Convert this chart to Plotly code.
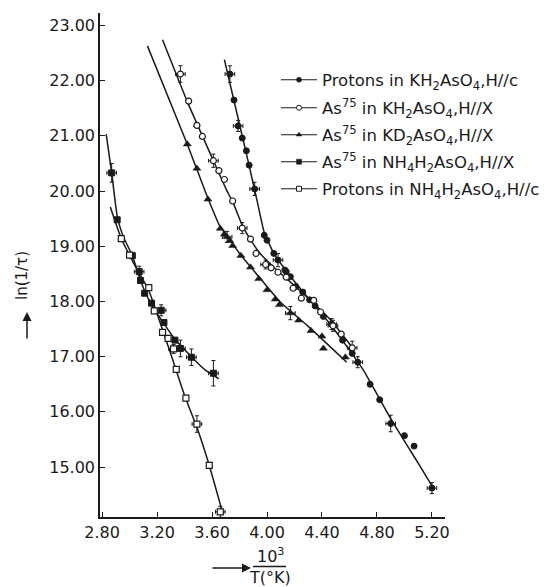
import plotly.graph_objects as go

# ---------------- data ----------------
# Series 1: Protons in KH2AsO4, H//c  (filled circles)
kh_p_x = [3.73, 3.76, 3.79, 3.82, 3.85, 3.87, 3.91, 3.98, 4.00, 4.05, 4.08, 4.13, 4.14, 4.17,
          4.21, 4.26, 4.31, 4.35, 4.41, 4.47, 4.55, 4.62, 4.66, 4.75, 4.82, 4.90, 5.00, 5.07, 5.20]
kh_p_y = [22.12, 21.65, 21.18, 20.96, 20.73, 20.47, 20.04, 19.20, 19.11, 18.87, 18.75, 18.57, 18.54, 18.45,
          18.27, 18.17, 18.03, 17.92, 17.73, 17.59, 17.30, 17.06, 16.90, 16.50, 16.22, 15.79, 15.57, 15.38, 14.62]
kh_p_ey = [0.15, 0, 0.10, 0, 0, 0, 0.12, 0, 0, 0, 0.12, 0, 0, 0,
           0, 0, 0, 0, 0, 0.10, 0, 0, 0.10, 0, 0, 0.15, 0, 0, 0.10]
kh_p_cx = [3.69, 3.80, 3.87, 3.93, 3.98, 4.05, 4.15, 4.30, 4.45, 4.60, 4.70, 4.90, 5.10, 5.21]
kh_p_cy = [22.38, 21.21, 20.46, 19.80, 19.25, 18.87, 18.52, 18.06, 17.62, 17.12, 16.76, 15.88, 15.07, 14.62]

# Series 2: As75 in KH2AsO4, H//X  (open circles)
kh_a_x = [3.37, 3.43, 3.49, 3.53, 3.61, 3.65, 3.69, 3.75, 3.82, 3.88, 3.92, 3.99, 4.03, 4.08,
          4.14, 4.19, 4.25, 4.34, 4.39, 4.48, 4.54, 4.62]
kh_a_y = [22.12, 21.63, 21.19, 20.99, 20.55, 20.37, 20.21, 19.82, 19.33, 19.13, 18.87, 18.67, 18.61, 18.53,
          18.44, 18.24, 18.06, 18.02, 17.81, 17.56, 17.41, 17.16]
kh_a_ey = [0.15, 0, 0, 0, 0.12, 0, 0, 0, 0.10, 0, 0, 0.08, 0, 0,
           0, 0, 0, 0, 0, 0.10, 0, 0.12]
kh_a_cx = [3.24, 3.42, 3.61, 3.70, 3.76, 3.82, 3.88, 3.95, 4.05, 4.17, 4.30, 4.45, 4.62]
kh_a_cy = [22.74, 21.62, 20.55, 20.05, 19.75, 19.38, 19.12, 18.87, 18.62, 18.35, 18.06, 17.70, 17.17]

# Series 3: As75 in KD2AsO4, H//X  (filled triangles)
kd_a_x = [3.42, 3.49, 3.57, 3.66, 3.69, 3.71, 3.73, 3.75, 3.81, 3.88, 3.94, 4.00, 4.06, 4.09,
          4.17, 4.23, 4.32, 4.40, 4.41, 4.57]
kd_a_y = [20.85, 20.41, 19.85, 19.32, 19.22, 19.17, 19.10, 19.01, 18.83, 18.62, 18.41, 18.21, 18.04, 17.94,
          17.79, 17.66, 17.47, 17.37, 17.15, 16.99]
kd_a_ey = [0, 0, 0, 0, 0, 0.10, 0, 0, 0, 0, 0, 0, 0, 0,
           0.12, 0, 0, 0, 0, 0]
kd_a_cx = [3.13, 3.42, 3.57, 3.66, 3.72, 3.80, 3.95, 4.10, 4.30, 4.58]
kd_a_cy = [22.63, 20.85, 19.87, 19.35, 19.15, 18.87, 18.42, 17.98, 17.55, 16.90]

# Series 4: As75 in NH4H2AsO4, H//X  (filled squares)
nh_a_x = [2.87, 2.91, 3.02, 3.07, 3.08, 3.11, 3.16, 3.23, 3.25, 3.33, 3.37, 3.45, 3.61]
nh_a_y = [20.33, 19.48, 18.83, 18.54, 18.38, 18.15, 17.97, 17.84, 17.62, 17.30, 17.15, 16.99, 16.70]
nh_a_ey = [0.17, 0, 0, 0.10, 0, 0, 0, 0.10, 0, 0, 0.15, 0.15, 0.23]
nh_a_cx = [2.83, 2.87, 2.91, 2.95, 3.02, 3.10, 3.17, 3.25, 3.33, 3.45, 3.55, 3.65]
nh_a_cy = [21.03, 20.33, 19.55, 19.20, 18.83, 18.25, 17.90, 17.60, 17.32, 17.00, 16.76, 16.60]

# Series 5: Protons in NH4H2AsO4, H//c  (open squares)
nh_p_x = [2.94, 3.00, 3.14, 3.18, 3.24, 3.28, 3.32, 3.34, 3.41, 3.49, 3.58, 3.66]
nh_p_y = [19.14, 18.84, 18.25, 17.83, 17.44, 17.33, 17.14, 16.77, 16.25, 15.78, 15.03, 14.19]
nh_p_ey = [0, 0, 0, 0, 0, 0, 0.08, 0, 0, 0.15, 0, 0.10]
nh_p_cx = [2.86, 2.94, 3.05, 3.14, 3.20, 3.30, 3.40, 3.50, 3.58, 3.68]
nh_p_cy = [19.71, 19.14, 18.60, 18.20, 17.78, 17.05, 16.30, 15.65, 15.03, 14.15]

names = [
    "Protons in KH<sub>2</sub>AsO<sub>4</sub>,H//c",
    "As<sup>75</sup> in KH<sub>2</sub>AsO<sub>4</sub>,H//X",
    "As<sup>75</sup> in KD<sub>2</sub>AsO<sub>4</sub>,H//X",
    "As<sup>75</sup> in NH<sub>4</sub>H<sub>2</sub>AsO<sub>4</sub>,H//X",
    "Protons in NH<sub>4</sub>H<sub>2</sub>AsO<sub>4</sub>,H//c",
]
x_ticks = [2.80, 3.20, 3.60, 4.00, 4.40, 4.80, 5.20]
y_ticks = [15, 16, 17, 18, 19, 20, 21, 22, 23]
x_err = 0.035

# ---------------- styling ----------------
INK = "#1a1a1a"
FONT = "DejaVu Sans"
symbols = [
    dict(symbol="circle", size=6, color=INK, line=dict(color=INK, width=1)),
    dict(symbol="circle-open", size=6, color=INK, line=dict(color=INK, width=1.2)),
    dict(symbol="triangle-up", size=7, color=INK, line=dict(color=INK, width=0.5)),
    dict(symbol="square", size=6, color=INK, line=dict(color=INK, width=1)),
    dict(symbol="square-open", size=6, color=INK, line=dict(color=INK, width=1.2)),
]

series = [
    (kh_p_x, kh_p_y, kh_p_ey, kh_p_cx, kh_p_cy),
    (kh_a_x, kh_a_y, kh_a_ey, kh_a_cx, kh_a_cy),
    (kd_a_x, kd_a_y, kd_a_ey, kd_a_cx, kd_a_cy),
    (nh_a_x, nh_a_y, nh_a_ey, nh_a_cx, nh_a_cy),
    (nh_p_x, nh_p_y, nh_p_ey, nh_p_cx, nh_p_cy),
]

fig = go.Figure()

for i, (xs, ys, eys, cx, cy) in enumerate(series):
    fig.add_trace(go.Scatter(x=cx, y=cy, mode="lines",
                             line=dict(color=INK, width=1.5, shape="spline", smoothing=0.5),
                             showlegend=False, hoverinfo="skip"))
    ex_pts = [(x, y, e) for x, y, e in zip(xs, ys, eys) if e > 0]
    if ex_pts:
        fig.add_trace(go.Scatter(
            x=[p[0] for p in ex_pts], y=[p[1] for p in ex_pts], mode="markers",
            marker=dict(size=1, color=INK, opacity=0),
            error_y=dict(type="data", array=[p[2] for p in ex_pts], color=INK, thickness=1, width=2),
            error_x=dict(type="constant", value=x_err, color=INK, thickness=1, width=2),
            showlegend=False, hoverinfo="skip"))
    m = dict(symbols[i])
    if "open" in m["symbol"]:
        fig.add_trace(go.Scatter(x=xs, y=ys, mode="markers",
                                 marker=dict(symbol=m["symbol"].replace("-open", ""), size=m["size"],
                                             color="white", line=dict(color=INK, width=1.2)),
                                 showlegend=False))
    else:
        fig.add_trace(go.Scatter(x=xs, y=ys, mode="markers", marker=m, showlegend=False))

# The page body adds an 8 px margin, so the figure is drawn 8 px smaller and
# reference pixel positions are shifted by that amount.
OFF = 8
W, H = 553 - OFF, 587 - OFF
L, R, T, B = 100 - OFF, 445 - OFF, 13 - OFF, 517 - OFF
def px_x(p):
    return (p - OFF - L) / (R - L)
def px_y(p):
    return (B - (p - OFF)) / (B - T)

# legend entries: one legend per row so rows sit where the reference has them
row_centers = [80, 108, 135, 162, 189]
legend_layout = {}
for i, nm in enumerate(names):
    m = dict(symbols[i])
    if "open" in m["symbol"]:
        mk = dict(symbol=m["symbol"].replace("-open", ""), size=5, color="white", line=dict(color=INK, width=1))
    else:
        mk = dict(symbol=m["symbol"], size=5, color=INK, line=dict(color=INK, width=0.5))
    lname = "legend" if i == 0 else f"legend{i + 1}"
    fig.add_trace(go.Scatter(x=[None], y=[None], mode="lines+markers", name=nm, legend=lname,
                             line=dict(color=INK, width=1.2), marker=mk))
    legend_layout[lname] = dict(x=px_x(276), y=px_y(row_centers[i]), xanchor="left", yanchor="middle",
                                bgcolor="rgba(0,0,0,0)", font=dict(size=16.5, family=FONT, color=INK),
                                itemwidth=36)

fig.update_layout(
    width=W, height=H,
    margin=dict(l=L, r=W - R, t=T, b=H - B, autoexpand=False),
    paper_bgcolor="white", plot_bgcolor="white",
    font=dict(family=FONT, size=16, color=INK),
    showlegend=True,
    xaxis=dict(range=[2.785, 5.295], tickvals=x_ticks, ticktext=[f"{v:.2f}" for v in x_ticks],
               ticks="inside", ticklen=5, tickcolor=INK, showline=True, linecolor=INK, linewidth=1.5,
               showgrid=False, zeroline=False, tickfont=dict(size=16), automargin=False),
    yaxis=dict(range=[14.096, 23.226], tickvals=y_ticks, ticktext=[f"{v:.2f}" for v in y_ticks],
               ticks="inside", ticklen=5, tickcolor=INK, showline=True, linecolor=INK, linewidth=1.5,
               showgrid=False, zeroline=False, tickfont=dict(size=16), automargin=False),
    **legend_layout,
)

ann = []
ann.append(dict(x=px_x(22), y=px_y(276), xref="paper", yref="paper", text="ln(1/τ)", textangle=-90,
                xanchor="center", yanchor="middle", showarrow=False, font=dict(size=15)))
ann.append(dict(x=px_x(27), y=px_y(312), xref="paper", yref="paper", text="", showarrow=True,
                ax=0, ay=28, arrowhead=2, arrowsize=1.2, arrowwidth=1.5, arrowcolor=INK))
ann.append(dict(x=px_x(251), y=px_y(568), xref="paper", yref="paper", text="", showarrow=True,
                ax=-40, ay=0, arrowhead=2, arrowsize=1.2, arrowwidth=1.5, arrowcolor=INK))
ann.append(dict(x=px_x(270), y=px_y(555), xref="paper", yref="paper", text="10<sup>3</sup>",
                xanchor="center", yanchor="middle", showarrow=False, font=dict(size=16)))
ann.append(dict(x=px_x(270), y=px_y(577), xref="paper", yref="paper", text="T(°K)",
                xanchor="center", yanchor="middle", showarrow=False, font=dict(size=16)))
fig.update_layout(annotations=ann)
fig.add_shape(type="line", xref="paper", yref="paper", x0=px_x(253), x1=px_x(286),
              y0=px_y(566.5), y1=px_y(566.5), line=dict(color=INK, width=1.3))

fig.write_html("out.html")
